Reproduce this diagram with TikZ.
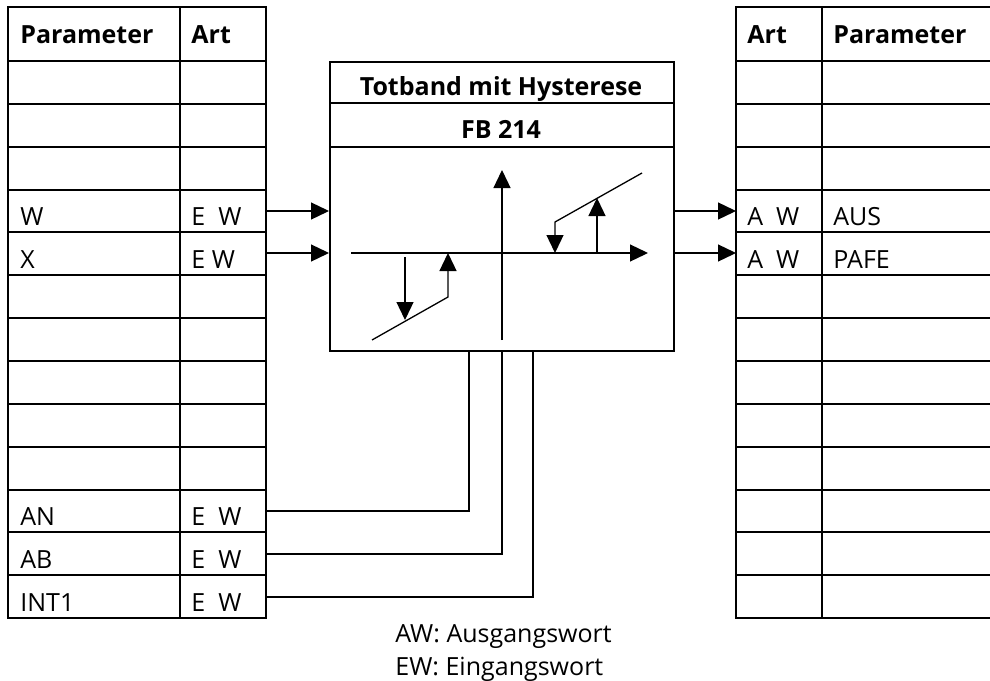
\documentclass[tikz,border=0pt]{standalone}
\usepackage{fontspec}
\setmainfont{Open Sans}
\usetikzlibrary{arrows.meta}
\tikzset{tab/.style = {line width = 1pt},
  sig/.style = {line width = 0.65pt},
  tip/.style = {-{Triangle[length = 9pt, width = 8.5pt]}},
  lbl/.style = {anchor = base west, inner sep = 0, font = \fontsize{12.5}{15}\selectfont},
  hdr/.style = {lbl, font = \fontsize{12.5}{15}\selectfont\bfseries}}

\begin{document}
\begin{tikzpicture}[x=0.5pt, y=-0.5pt]
      \useasboundingbox (0,0) rectangle (990,680);
      % left table
      \draw [tab] (8,7) rectangle (266,618);
      \draw [tab] (180,7) -- (180,618);
      \foreach \i in {0,...,12} \draw [tab] (8,{61+42.85*\i}) -- (266,{61+42.85*\i});
      \node [hdr] (lpar) at (20,43) {Parameter};
      \node [hdr] (lart) at (191,43) {Art};
      \node [lbl] (pW) at (20,225) {W};
      \node [lbl] (aW) at (191,225) {E~~W};
      \node [lbl] (pX) at (20,268) {X};
      \node [lbl] (aX) at (191,268) {E W};
      \node [lbl] (pAN) at (20,525) {AN};
      \node [lbl] (aAN) at (191,525) {E~~W};
      \node [lbl] (pAB) at (20,568) {AB};
      \node [lbl] (aAB) at (191,568) {E~~W};
      \node [lbl] (pINT) at (20,611) {INT1};
      \node [lbl] (aINT) at (191,611) {E~~W};
      % right table
      \draw [tab] (990,7) -- (736,7) -- (736,618) -- (990,618);
      \draw [tab] (822,7) -- (822,618);
      \foreach \i in {0,...,12} \draw [tab] (736,{61+42.85*\i}) -- (990,{61+42.85*\i});
      \node [hdr] (rart) at (747,43) {Art};
      \node [hdr] (rpar) at (833,43) {Parameter};
      \node [lbl] (aAUS) at (747,225) {A~~W};
      \node [lbl] (pAUS) at (833,225) {AUS};
      \node [lbl] (aPAFE) at (747,268) {A~~W};
      \node [lbl] (pPAFE) at (833,268) {PAFE};
      % function block
      \node [draw, tab, anchor = north west, inner sep = 0,
        minimum width = 172pt, minimum height = 144.5pt] (fb) at (329,61) {};
      \draw [tab] (fb.west |- 0,103) -- (fb.east |- 0,103);
      \draw [tab] (fb.west |- 0,147) -- (fb.east |- 0,147);
      \node [hdr, anchor = base] (title) at (501,95) {Totband mit Hysterese};
      \node [hdr, anchor = base] (fbnr) at (501,138) {FB 214};
      % characteristic
      \draw [sig, tip] (351,253) -- (648,253);
      \draw [sig, tip] (502,340) -- (502,170);
      \draw [sig, tip] (642,173) -- (555,222) -- (555,253);
      \draw [sig, tip] (597,253) -- (597,198);
      \draw [sig, tip] (372,340) -- (448,297) -- (448,253);
      \draw [sig, tip] (405,257) -- (405,320);
      % connections
      \coordinate (cW) at (266,211);
      \coordinate (cX) at (266,253);
      \coordinate (cAUS) at (736,211);
      \coordinate (cPAFE) at (736,253);
      \draw [sig, tip] (cW) -- (fb.west |- cW);
      \draw [sig, tip] (cX) -- (fb.west |- cX);
      \draw [sig, tip] (fb.east |- cAUS) -- (cAUS);
      \draw [sig, tip] (fb.east |- cPAFE) -- (cPAFE);
      \coordinate (cAN) at (266,511);
      \coordinate (cAB) at (266,554);
      \coordinate (cINT) at (266,597);
      \draw [sig] (cAN) -| (fb.south -| 469,0);
      \draw [sig] (cAB) -| (fb.south -| 502,0);
      \draw [sig] (cINT) -| (fb.south -| 533,0);
      % legend
      \node [lbl] (fnA) at (395,642) {AW: Ausgangswort};
      \node [lbl] (fnE) at (395,675) {EW: Eingangswort};
\end{tikzpicture}
\end{document}
